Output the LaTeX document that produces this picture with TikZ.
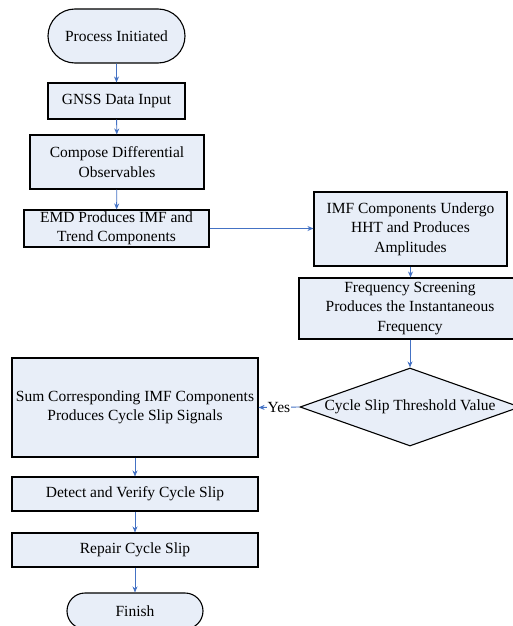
\documentclass[tikz,border=0pt]{standalone}
\usepackage{fontspec}
\setmainfont{Liberation Serif}
\usetikzlibrary{shapes.misc,shapes.geometric,arrows.meta}
\definecolor{boxfill}{RGB}{232,238,248}
\definecolor{arrowblue}{RGB}{68,114,196}
\tikzset{
  txt/.style={font=\fontsize{15.5}{19.4}\selectfont},
  box/.style={txt, draw=black, fill=boxfill, line width=1.1pt, align=center, inner sep=0pt},
  term/.style={box, rounded rectangle},
  decision/.style={box, diamond, aspect=2.82},
  arr/.style={draw=arrowblue, line width=0.9pt, -{Stealth[length=6pt,width=5pt]}}
}
\begin{document}
\begin{tikzpicture}[x=1pt,y=-1pt]
\useasboundingbox (0,0) rectangle (513,626);
\node[term, minimum width=137pt, minimum height=54pt] (start) at (116.5,36) {Process Initiated};
\node[box, minimum width=137pt, minimum height=36pt] (gnss) at (116.5,101) {GNSS Data Input};
\node[box, minimum width=174pt, minimum height=54pt] (comp) at (117,162) {Compose Differential\\Observables};
\node[box, minimum width=185pt, minimum height=37pt] (emd) at (116.5,228.5) {EMD Produces IMF and\\Trend Components};
\node[box, minimum width=193pt, minimum height=74pt] (imf) at (410.5,229) {IMF Components Undergo\\HHT and Produces\\Amplitudes};
\node[box, minimum width=222pt, minimum height=61pt] (freq) at (410,308.5) {Frequency Screening\\Produces the Instantaneous\\Frequency};
\node[decision, minimum width=220pt, minimum height=78pt] (dia) at (410,407) {Cycle Slip Threshold Value};
\node[box, minimum width=246pt, minimum height=99pt] (sum) at (135,407.5) {Sum Corresponding IMF Components\\Produces Cycle Slip Signals};
\node[box, minimum width=246pt, minimum height=34pt] (det) at (135,494) {Detect and Verify Cycle Slip};
\node[box, minimum width=246pt, minimum height=34pt] (rep) at (135,550) {Repair Cycle Slip};
\node[term, minimum width=136pt, minimum height=36pt] (fin) at (135,611) {Finish};
\draw[arr] (start) -- (gnss);
\draw[arr] (gnss) -- (comp);
\draw[arr] (comp) -- (emd);
\draw[arr] (emd.east) -- (emd.east -| imf.west);
\draw[arr] (imf.south) -- (imf.south |- freq.north);
\draw[arr] (freq) -- (dia);
\draw[arr] (dia.west) -- node[txt, fill=white, inner sep=1pt] (yes) {Yes} (sum.east);
\draw[arr] (sum) -- (det);
\draw[arr] (det) -- (rep);
\draw[arr] (rep) -- (fin);
\end{tikzpicture}
\end{document}
